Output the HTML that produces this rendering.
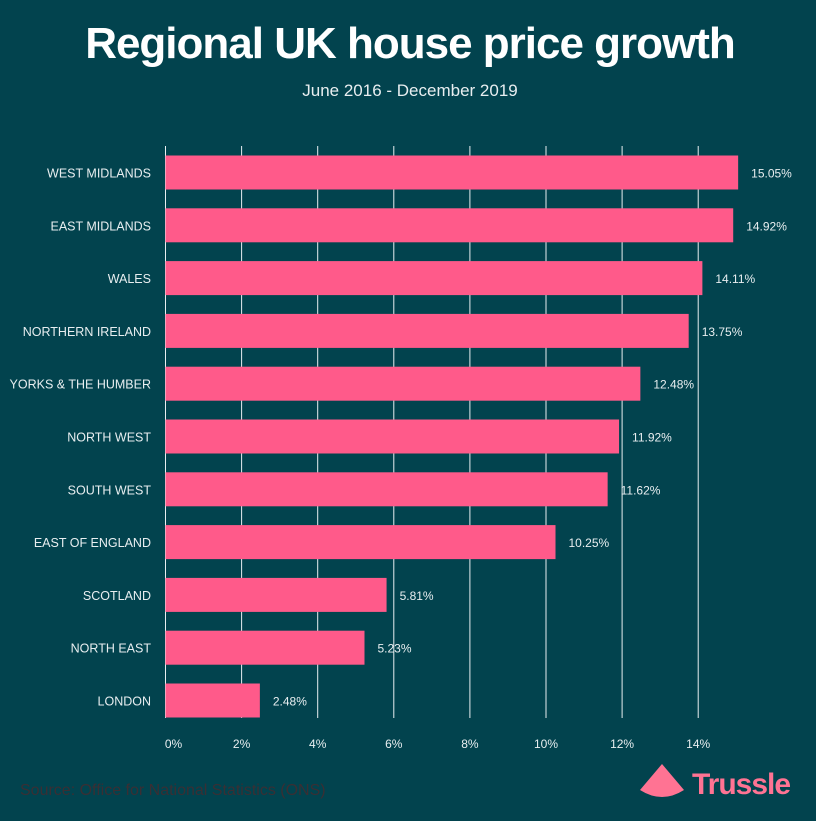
<!DOCTYPE html>
<html><head><meta charset="utf-8"><style>
body{margin:0;width:816px;height:816px;background:#02434e;overflow:hidden;font-family:"Liberation Sans",sans-serif}
</style></head><body>
<svg width="816" height="816" xmlns="http://www.w3.org/2000/svg">
<rect width="816" height="816" fill="#02434e"/>
<text x="410" y="58" text-anchor="middle" font-size="44" font-weight="bold" fill="#fff" font-family="Liberation Sans, sans-serif" letter-spacing="-1">Regional UK house price growth</text>
<text x="410" y="96" text-anchor="middle" font-size="17" fill="#e8eef0">June 2016 - December 2019</text>
<g id="grid"></g><g id="bars"></g><g id="ticks"></g>
<text x="20" y="795" font-size="16" fill="#3a2f34">Source: Office for National Statistics (ONS)</text>
<path d="M662 764 L640 790 Q662 804 684 790 Z" fill="#ff7393"/>
<text x="692" y="794" font-size="30" font-weight="bold" fill="#ff7393" letter-spacing="-1">Trussle</text>
</svg>
<script>
const categories=["WEST MIDLANDS","EAST MIDLANDS","WALES","NORTHERN IRELAND","YORKS & THE HUMBER","NORTH WEST","SOUTH WEST","EAST OF ENGLAND","SCOTLAND","NORTH EAST","LONDON"];
const values=[15.05,14.92,14.11,13.75,12.48,11.92,11.62,10.25,5.81,5.23,2.48];
const valueLabels=["15.05%","14.92%","14.11%","13.75%","12.48%","11.92%","11.62%","10.25%","5.81%","5.23%","2.48%"];
const tickValues=[0,2,4,6,8,10,12,14];
const tickLabels=["0%","2%","4%","6%","8%","10%","12%","14%"];
const NS="http://www.w3.org/2000/svg";
const x=v=>165.5+v*38.05;
const y=i=>172.5+i*52.8;
function mk(t,a,p){const e=document.createElementNS(NS,t);for(const k in a)e.setAttribute(k,a[k]);p.appendChild(e);return e;}
const g=document.getElementById('grid'),b=document.getElementById('bars'),tk=document.getElementById('ticks');
tickValues.forEach((v,i)=>{
 const l=mk('line',{x1:x(v),x2:x(v),y1:146,y2:718,stroke:'#e8eef0','stroke-width':1},g);
 
 
 const t=mk('text',{x:x(v)+(v===0?8:0),y:748,'text-anchor':'middle','font-size':12,fill:'#e8eef0'},tk);
 t.textContent=tickLabels[i];
 
 
});
categories.forEach((c,i)=>{
 const r=mk('rect',{x:x(0),y:y(i)-17,width:x(values[i])-x(0),height:34,fill:'#ff5a8a'},b);
 
 
 const lt=mk('text',{x:151,y:y(i)+5,'text-anchor':'end','font-size':12.5,fill:'#e8eef0'},b);
 lt.textContent=c;
 
 
 const vt=mk('text',{x:x(values[i])+13,y:y(i)+5,'font-size':12,fill:'#e8eef0'},b);
 vt.textContent=valueLabels[i];
 
 
});
</script>
</body></html>
